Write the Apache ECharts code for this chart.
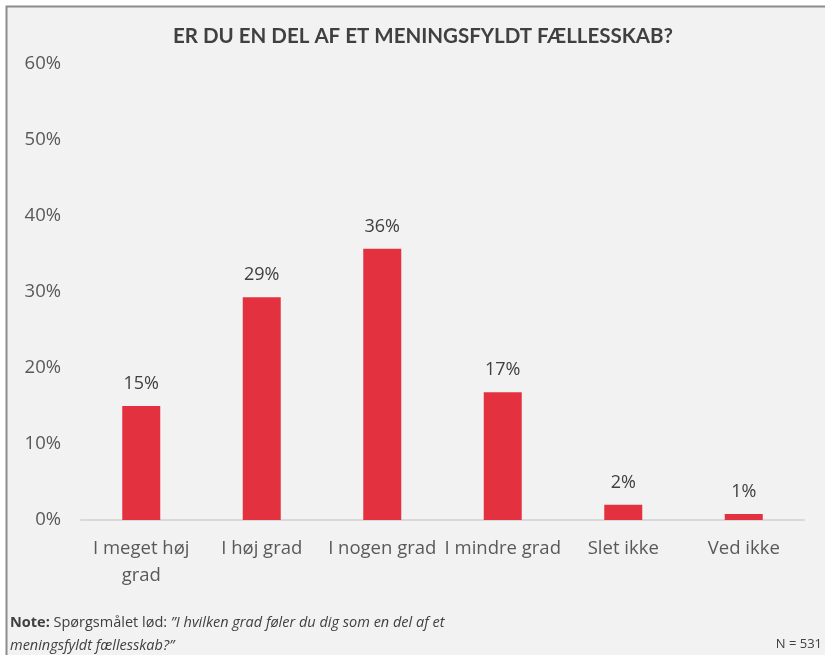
<!DOCTYPE html>
<html>
<head>
<meta charset="utf-8">
<script src="https://cdn.jsdelivr.net/npm/echarts@6/dist/echarts.min.js"></script>
<style>
  html, body { margin: 0; padding: 0; background: #fff; }
  #chart { width: 825px; height: 655px; }
</style>
</head>
<body>
<div id="chart"></div>
<script>
// data
var categories = ['I meget høj\ngrad', 'I høj grad', 'I nogen grad', 'I mindre grad', 'Slet ikke', 'Ved ikke'];
var shares = [15.0, 29.3, 35.7, 16.8, 2.0, 0.8];
var yTicks = [0, 10, 20, 30, 40, 50, 60];

var chart = echarts.init(document.getElementById('chart'));

chart.setOption({
  backgroundColor: '#ffffff',
  animation: false,
  textStyle: { fontFamily: 'Open Sans' },
  // frame of the original figure
  graphic: [{
    type: 'rect',
    z: -10,
    shape: { x: 6.5, y: 6.5, width: 900, height: 900 },
    style: { fill: '#f2f2f2', stroke: '#8c8c8c', lineWidth: 2 }
  }, {
    type: 'text',
    left: 10,
    top: 611,
    style: {
      text: '{b|Note:} Spørgsmålet lød: {i|”I hvilken grad føler du dig som en del af et}\n{i|meningsfyldt fællesskab?”}',
      fill: '#404040',
      font: '14.5px "Open Sans"',
      lineHeight: 23,
      rich: {
        b: { fontWeight: 'bold', fontSize: 14.5, fill: '#404040', fontFamily: 'Open Sans' },
        i: { fontStyle: 'italic', fontSize: 14.5, fill: '#404040', fontFamily: 'Open Sans' }
      }
    }
  }, {
    type: 'text',
    right: 3,
    top: 638,
    style: { text: 'N = 531', fill: '#404040', font: '13px "Open Sans"' }
  }],
  title: {
    text: 'ER DU EN DEL AF ET MENINGSFYLDT FÆLLESSKAB?',
    left: 418,
    textAlign: 'center',
    top: 21,
    textStyle: { fontFamily: 'Lato', fontWeight: 'bold', fontSize: 20.5, color: '#404040' }
  },
  grid: { left: 81, right: 21, top: 64, bottom: 135, containLabel: false },
  xAxis: {
    type: 'category',
    data: categories,
    axisLine: { lineStyle: { color: '#d9d9d9', width: 2 } },
    axisTick: { show: false },
    axisLabel: {
      interval: 0,
      color: '#595959',
      fontSize: 18.5,
      lineHeight: 27,
      margin: 15
    }
  },
  yAxis: {
    type: 'value',
    min: yTicks[0],
    max: yTicks[yTicks.length - 1],
    interval: 10,
    splitLine: { show: false },
    axisLine: { show: false },
    axisTick: { show: false },
    axisLabel: {
      color: '#595959',
      fontSize: 18.5,
      margin: 20,
      formatter: function (v) { return v + '%'; }
    }
  },
  series: [{
    type: 'bar',
    data: shares,
    barWidth: 38,
    itemStyle: { color: '#e4313f' },
    label: {
      show: true,
      position: 'top',
      distance: 13,
      color: '#404040',
      fontSize: 18,
      formatter: function (p) { return Math.round(p.value) + '%'; }
    }
  }]
});
</script>
</body>
</html>
